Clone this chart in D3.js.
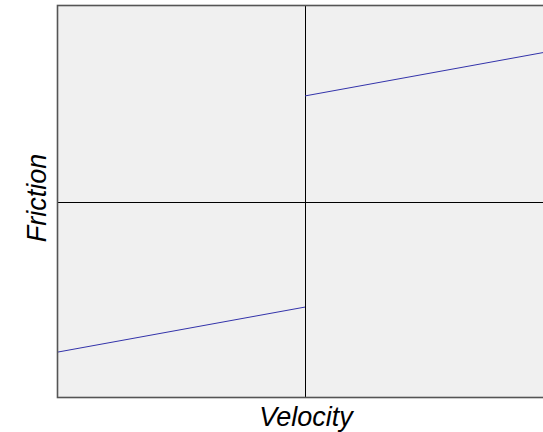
<!DOCTYPE html>
<html>
<head>
<meta charset="utf-8">
<script src="https://cdn.jsdelivr.net/npm/d3@7/dist/d3.min.js"></script>
<style>
  html, body { margin: 0; padding: 0; background: #ffffff; }
  svg { display: block; }
</style>
</head>
<body>
<script>
// Coulomb + viscous friction model: F = Fc*sign(v) + b*v
const velocityNeg = [-1, 0];
const frictionNeg = [-0.77, -0.54];
const velocityPos = [0, 1];
const frictionPos = [0.54, 0.77];
const xDomain = [-1, 1];
const yDomain = [-1, 1];
const xLabel = "Velocity";
const yLabel = "Friction";

const W = 543, H = 432;
const margin = { left: 58, top: 6, right: -9, bottom: 35 };
const plotW = W - margin.left - margin.right;
const plotH = H - margin.top - margin.bottom;

const svg = d3.select("body").append("svg")
  .attr("width", W).attr("height", H);

const x = d3.scaleLinear().domain(xDomain).range([margin.left, margin.left + plotW]);
const y = d3.scaleLinear().domain(yDomain).range([margin.top + plotH, margin.top]);

svg.append("defs").append("clipPath").attr("id", "plotclip")
  .append("rect").attr("x", margin.left).attr("y", margin.top)
  .attr("width", plotW).attr("height", plotH);

// plot background
svg.append("rect")
  .attr("x", margin.left).attr("y", margin.top)
  .attr("width", plotW).attr("height", plotH)
  .attr("fill", "#f0f0f0");

const g = svg.append("g").attr("clip-path", "url(#plotclip)");

// zero axes
g.append("line")
  .attr("x1", x(0) + 0.5).attr("x2", x(0) + 0.5)
  .attr("y1", margin.top).attr("y2", margin.top + plotH)
  .attr("stroke", "#000").attr("stroke-width", 1);
g.append("line")
  .attr("x1", margin.left).attr("x2", margin.left + plotW)
  .attr("y1", Math.round(y(0)) + 0.5).attr("y2", Math.round(y(0)) + 0.5)
  .attr("stroke", "#000").attr("stroke-width", 1);

const line = d3.line().x(d => x(d[0])).y(d => y(d[1]));
[[velocityNeg, frictionNeg], [velocityPos, frictionPos]].forEach(([vs, fs]) => {
  g.append("path")
    .datum(vs.map((v, i) => [v, fs[i]]))
    .attr("d", line)
    .attr("fill", "none")
    .attr("stroke", "#3333aa")
    .attr("stroke-width", 1);
});

// frame
svg.append("rect")
  .attr("x", margin.left - 0.5).attr("y", margin.top - 0.5)
  .attr("width", plotW + 1).attr("height", plotH + 1)
  .attr("fill", "none")
  .attr("stroke", "#555")
  .attr("stroke-width", 1.6);

// axis labels
svg.append("text")
  .attr("x", 306).attr("y", 426)
  .attr("text-anchor", "middle")
  .attr("font-family", "Liberation Sans, Arial, sans-serif")
  .attr("font-style", "italic")
  .attr("font-size", 27)
  .text(xLabel);

svg.append("text")
  .attr("transform", `translate(46, 198) rotate(-90)`)
  .attr("text-anchor", "middle")
  .attr("font-family", "Liberation Sans, Arial, sans-serif")
  .attr("font-style", "italic")
  .attr("font-size", 27)
  .text(yLabel);
</script>
</body>
</html>
